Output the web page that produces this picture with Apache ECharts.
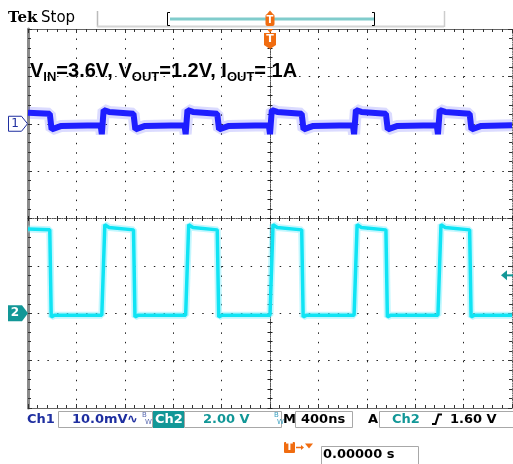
<!DOCTYPE html>
<html>
<head>
<meta charset="utf-8">
<script src="https://cdn.jsdelivr.net/npm/echarts@6/dist/echarts.min.js"></script>
<style>
html, body { margin: 0; padding: 0; background: #fff; }
#main { width: 513px; height: 464px; }
</style>
</head>
<body>
<div id="main"></div>
<script>
// scope settings
var timeRange = [-2000, 2000];   // ns, 400ns/div, trigger at centre
var ch1Range = [-60, 20];        // mV, 10mV/div, ch1 ground 2 div from top
var ch2Range = [-4, 12];         // V, 2V/div, ch2 ground 6 div from top
var trigLevel = 1.6;             // V on ch2

var riseT = [-1390, -697, 0, 695, 1388];
var fallT = [-1820, -1128, -436, 262, 958, 1650];

// ch2 levels, V : overshoot, settled, before fall
var swHigh = [3.74, 3.62, 3.52];
// ch2 low : undershoot, plateau
var swLow = [-0.16, -0.08];

// ch1 output ripple, mV : after rise, mid, before fall
var ripHigh = [2.9, 2.5, 2.1];
// ch1 low : after fall, settled, before rise
var ripLow = [-1.2, -0.5, -0.3];
var ripDip = -2.2;
var ripStart = [2.3, -0.3]; // value at left / right edge of screen

function buildEdges() {
  var ev = [];
  riseT.forEach(function (t) { ev.push({ t: t, up: true }); });
  fallT.forEach(function (t) { ev.push({ t: t, up: false }); });
  ev.sort(function (a, b) { return a.t - b.t; });
  return ev;
}

var edges = buildEdges();

var ch2Data = [[timeRange[0], 3.56]];
var ch1Data = [[timeRange[0], ripStart[0]]];
edges.forEach(function (e) {
  if (e.up) {
    ch2Data.push([e.t, swLow[1]], [e.t + 25, swHigh[0]], [e.t + 60, swHigh[1]]);
    ch1Data.push([e.t - 10, ripLow[2]], [e.t, ripDip], [e.t + 15, ripHigh[0]], [e.t + 60, ripHigh[1]]);
  } else {
    ch2Data.push([e.t, swHigh[2]], [e.t + 12, swLow[0]], [e.t + 40, swLow[1]]);
    ch1Data.push([e.t, ripHigh[2]], [e.t + 15, ripLow[0]], [e.t + 90, ripLow[1]]);
  }
});
ch2Data.push([timeRange[1], swLow[1]]);
ch1Data.push([timeRange[1], ripStart[1]]);

var chart = echarts.init(document.getElementById('main'), null, { renderer: 'canvas' });

var dotV = [1.5, 7.98];   // dots every 1/5 div vertically
var dotH = [1.5, 8.18];   // dots every 1/5 div horizontally
var gridCol = '#222';

function borderX(pos) {
  return {
    type: 'value', min: timeRange[0], max: timeRange[1], interval: 400,
    position: pos,
    axisLine: { show: true, onZero: false, lineStyle: { color: '#666', width: 1 } },
    axisTick: { show: true, inside: true, length: 4, lineStyle: { color: '#333' } },
    minorTick: { show: true, splitNumber: 5, length: 3, lineStyle: { color: '#333' } },
    axisLabel: { show: false },
    splitLine: { show: false }
  };
}
function centreX(inside) {
  return {
    type: 'value', min: timeRange[0], max: timeRange[1], interval: 400,
    position: 'bottom',
    axisLine: { show: true, onZero: true, onZeroAxisIndex: 0, lineStyle: { color: '#555', width: 1, type: [1, 1.42] } },
    axisTick: { show: true, inside: inside, length: 2.5, lineStyle: { color: '#222' } },
    minorTick: { show: true, splitNumber: 5, length: 2.5, lineStyle: { color: '#222' } },
    axisLabel: { show: false },
    splitLine: { show: false }
  };
}
function centreY(inside) {
  return {
    type: 'value', min: -4, max: 4, interval: 1,
    position: 'left',
    axisLine: { show: true, onZero: true, onZeroAxisIndex: 0, lineStyle: { color: '#555', width: 1, type: [1, 1.37] } },
    axisTick: { show: true, inside: inside, length: 2.5, lineStyle: { color: '#222' } },
    minorTick: { show: true, splitNumber: 5, length: 2.5, lineStyle: { color: '#222' } },
    axisLabel: { show: false },
    splitLine: { show: false }
  };
}

var xAxes = [
  borderX('bottom'),
  borderX('top'),
  centreX(true),
  centreX(false)
];
xAxes[0].splitLine = { show: true, lineStyle: { color: gridCol, width: 1, type: dotV } };

var yAxes = [
  {
    type: 'value', min: -4, max: 4, interval: 1, position: 'left',
    axisLine: { show: true, onZero: false, lineStyle: { color: '#8a8a8a', width: 3 } },
    axisTick: { show: true, inside: true, length: 4, lineStyle: { color: '#333' } },
    minorTick: { show: true, splitNumber: 5, length: 3, lineStyle: { color: '#333' } },
    axisLabel: { show: false },
    splitLine: { show: true, lineStyle: { color: gridCol, width: 1, type: dotH } }
  },
  {
    type: 'value', min: -4, max: 4, interval: 1, position: 'right',
    axisLine: { show: true, onZero: false, lineStyle: { color: '#777', width: 1, type: [1, 1.37] } },
    axisTick: { show: true, inside: true, length: 4, lineStyle: { color: '#333' } },
    minorTick: { show: true, splitNumber: 5, length: 3, lineStyle: { color: '#333' } },
    axisLabel: { show: false },
    splitLine: { show: false }
  },
  centreY(true),
  centreY(false),
  { type: 'value', min: ch1Range[0], max: ch1Range[1], show: false },
  { type: 'value', min: ch2Range[0], max: ch2Range[1], show: false }
];

var option = {
  animation: false,
  backgroundColor: '#fff',
  grid: { left: 28, right: 1, top: 29, bottom: 56 },
  xAxis: xAxes,
  yAxis: yAxes,
  series: [
    {
      name: 'ch1 halo', type: 'line', xAxisIndex: 0, yAxisIndex: 4, data: ch1Data,
      showSymbol: false, z: 5, lineStyle: { color: 'rgba(90,90,255,0.22)', width: 12 }
    },
    {
      name: 'ch1', type: 'line', xAxisIndex: 0, yAxisIndex: 4, data: ch1Data,
      showSymbol: false, z: 6, lineStyle: { color: '#1e1eff', width: 6 }
    },
    {
      name: 'ch2 halo', type: 'line', xAxisIndex: 0, yAxisIndex: 5, data: ch2Data,
      showSymbol: false, z: 7, lineStyle: { color: 'rgba(120,238,252,0.45)', width: 7 }
    },
    {
      name: 'ch2', type: 'line', xAxisIndex: 0, yAxisIndex: 5, data: ch2Data,
      showSymbol: false, z: 8, lineStyle: { color: '#10e4f4', width: 3.5 }
    }
  ]
};
chart.setOption(option);

// place the markers on the channel grounds, trigger time and level
var p1 = chart.convertToPixel({ xAxisIndex: 0, yAxisIndex: 4 }, [0, 0]);
var p2 = chart.convertToPixel({ xAxisIndex: 0, yAxisIndex: 5 }, [0, 0]);
var pt = chart.convertToPixel({ xAxisIndex: 0, yAxisIndex: 5 }, [0, trigLevel]);
var tx = p1[0];
var y1 = p1[1], y2 = p2[1], yt = pt[1];

var blue = '#1f2fa0';
var teal = '#129797';
var orange = '#f06c10';
var stat = 'bold 13px "DejaVu Sans"';

function txt(x, y, s, font, col, align) {
  return { type: 'text', z: 100, style: { x: x, y: y, text: s, font: font, fill: col, align: align || 'left', verticalAlign: 'middle' } };
}
function box(x, y, w, h, stroke, fill) {
  return { type: 'rect', z: 90, shape: { x: x, y: y, width: w, height: h }, style: { fill: fill || '#fff', stroke: stroke, lineWidth: 1 } };
}
function poly(pts, fill, stroke) {
  return { type: 'polygon', z: 95, shape: { points: pts }, style: { fill: fill, stroke: stroke || null, lineWidth: 1 } };
}
function line(x1, yA, x2, yB, col, w) {
  return { type: 'line', z: 95, shape: { x1: x1, y1: yA, x2: x2, y2: yB }, style: { stroke: col, lineWidth: w } };
}

var g = [];
// header
g.push(txt(8, 18, 'Tek', 'bold 15px "DejaVu Serif"', '#000'));
g.push(txt(41, 18, 'Stop', 'normal 15px "DejaVu Sans"', '#000'));
g.push(line(97.5, 11, 97.5, 27, '#bbb', 1.5));
g.push(line(97, 26.5, 444, 26.5, '#d4d4d4', 2));
g.push(line(444.5, 11, 444.5, 27, '#ccc', 1.5));
g.push(line(170, 19, 374, 19, '#80cccc', 3));
g.push({ type: 'polyline', z: 95, shape: { points: [[170, 12.5], [167.5, 12.5], [167.5, 25.5], [170, 25.5]] }, style: { stroke: '#000', lineWidth: 1, fill: null } });
g.push({ type: 'polyline', z: 95, shape: { points: [[372, 12.5], [374.5, 12.5], [374.5, 25.5], [372, 25.5]] }, style: { stroke: '#000', lineWidth: 1, fill: null } });

// trigger position markers
g.push(poly([[tx - 3, 14], [tx + 3, 14], [tx, 10.5]], orange));
g.push({ type: 'rect', z: 95, shape: { x: tx - 4.5, y: 14, width: 9, height: 12, r: 2 }, style: { fill: orange } });
g.push(txt(tx, 20.5, 'T', 'bold 10px "DejaVu Sans"', '#fff', 'center'));
g.push(poly([[tx - 3, 29], [tx + 3, 29], [tx, 33]], orange));
g.push(poly([[tx - 6, 33], [tx + 6, 33], [tx + 6, 45], [tx, 49], [tx - 6, 45]], orange));
g.push(txt(tx, 39.5, 'T', 'bold 11px "DejaVu Sans"', '#fff', 'center'));

// annotation
g.push({
  type: 'text', z: 100,
  style: {
    x: 30, y: 59,
    text: '{b|V}{s|IN}{b|=3.6V, V}{s|OUT}{b|=1.2V, I}{s|OUT}{b|= 1A}',
    rich: {
      b: { fontFamily: '"Liberation Sans", Arial', fontWeight: 'bold', fontSize: 20, fill: '#000', lineHeight: 22, verticalAlign: 'bottom' },
      s: { fontFamily: '"Liberation Sans", Arial', fontWeight: 'bold', fontSize: 13, fill: '#000', lineHeight: 14, verticalAlign: 'bottom', padding: [0, 0, -3, 0] }
    }
  }
});

// channel ground markers
g.push(poly([[8.5, y1 - 7.5], [21.5, y1 - 7.5], [27.5, y1], [21.5, y1 + 7.5], [8.5, y1 + 7.5]], '#fff', blue));
g.push(txt(15, y1, '1', 'normal 12px "DejaVu Sans"', blue, 'center'));
g.push(poly([[8, y2 - 8], [22, y2 - 8], [28, y2], [22, y2 + 8], [8, y2 + 8]], teal));
g.push(txt(15, y2, '2', 'bold 12px "DejaVu Sans"', '#fff', 'center'));

// trigger level arrow
g.push(poly([[501, yt], [507, yt - 5], [507, yt + 5]], teal));
g.push({ type: 'rect', z: 95, shape: { x: 506, y: yt - 1, width: 7, height: 2 }, style: { fill: teal } });

// status bar
var sy = 419.5;
g.push(txt(27, sy, 'Ch1', stat, blue));
g.push(box(58.5, 411.5, 94, 16, '#a8a8a8'));
g.push(txt(72, sy, '10.0mV', stat, blue));
g.push(txt(127, sy, '\u223F', 'bold 13px "DejaVu Sans"', blue));
g.push(txt(142, 415, 'B', 'normal 7px "DejaVu Sans"', '#5a6ab0'));
g.push(txt(145, 422, 'W', 'normal 7px "DejaVu Sans"', '#5a6ab0'));
g.push({ type: 'rect', z: 91, shape: { x: 153, y: 411, width: 31, height: 17 }, style: { fill: teal } });
g.push(txt(155, sy, 'Ch2', stat, '#fff'));
g.push(box(184.5, 411.5, 97, 16, '#a8a8a8'));
g.push(txt(203, sy, '2.00 V', stat, teal));
g.push(txt(274, 415, 'B', 'normal 7px "DejaVu Sans"', '#3aa0c0'));
g.push(txt(277, 422, 'W', 'normal 7px "DejaVu Sans"', '#3aa0c0'));
g.push(txt(283, sy, 'M', stat, '#000'));
g.push(box(295.5, 411.5, 57, 16, '#a8a8a8'));
g.push(txt(301, sy, '400ns', stat, '#000'));
g.push(txt(368, sy, 'A', stat, '#000'));
g.push(box(379.5, 411.5, 140, 16, '#a8a8a8'));
g.push(txt(392, sy, 'Ch2', stat, teal));
g.push({ type: 'polyline', z: 95, shape: { points: [[432, 424], [435.5, 424], [438.5, 414.5], [442, 414.5]] }, style: { stroke: '#000', lineWidth: 2, fill: null } });
g.push(txt(450, sy, '1.60 V', stat, '#000'));

// trigger position readout
g.push({ type: 'rect', z: 95, shape: { x: 284, y: 442, width: 11, height: 11, r: 1 }, style: { fill: orange } });
g.push(txt(289.5, 447.5, 'T', 'bold 10px "DejaVu Sans"', '#fff', 'center'));
g.push(line(296, 447.5, 302, 447.5, orange, 1.5));
g.push(poly([[301, 445], [304, 447.5], [301, 450]], orange));
g.push(poly([[305, 443.5], [313, 443.5], [309, 448.5]], orange));
g.push(box(321.5, 446.5, 97, 20, '#a8a8a8'));
g.push(txt(323, 455, '0.00000 s', stat, '#000'));

chart.setOption({ graphic: g });
</script>
</body>
</html>
